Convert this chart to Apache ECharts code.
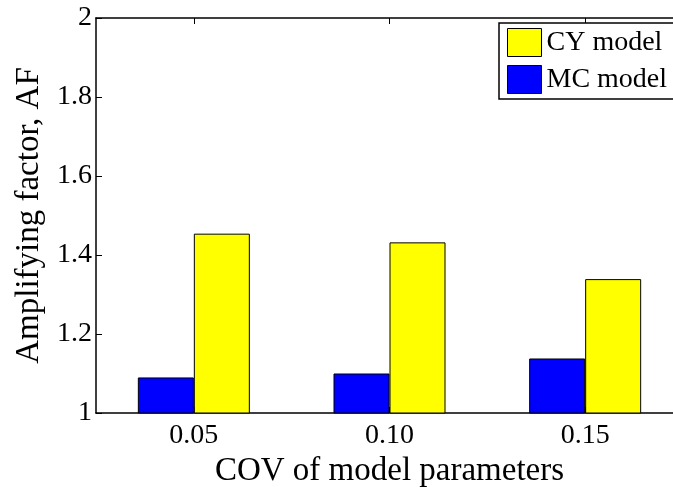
<!DOCTYPE html>
<html>
<head>
<meta charset="utf-8">
<script src="https://cdn.jsdelivr.net/npm/echarts@6/dist/echarts.min.js"></script>
<style>html,body{margin:0;padding:0;background:#fff}#c{width:673px;height:487px}</style>
</head>
<body>
<div id="c"></div>
<script>
const categories = ['0.05', '0.10', '0.15'];
const mcValues = [1.09, 1.10, 1.138];
const cyValues = [1.454, 1.432, 1.339];
const seriesNames = ['MC model', 'CY model'];
const yTicks = { min: 1, max: 2, interval: 0.2 };

const FONT = "'Liberation Serif', 'Times New Roman', serif";
const chart = echarts.init(document.getElementById('c'), null, { renderer: 'canvas' });
const axisLine = { show: true, lineStyle: { color: '#000', width: 1.5 } };
chart.setOption({
  animation: false,
  backgroundColor: '#fff',
  grid: { left: 96, top: 18, width: 587, height: 395, containLabel: false, outerBoundsMode: 'none' },
  legend: {
    data: ['CY model', 'MC model'],
    orient: 'vertical',
    left: 499, top: 23,
    padding: [5, 8, 5, 8],
    itemGap: 8,
    itemWidth: 34, itemHeight: 28,
    icon: 'rect',
    borderColor: '#000', borderWidth: 1.5,
    backgroundColor: '#fff',
    textStyle: { fontFamily: FONT, fontSize: 28, color: '#000' },
    itemStyle: { borderColor: '#000', borderWidth: 1 }
  },
  xAxis: [{
    type: 'category', data: categories, position: 'bottom',
    axisLine: axisLine,
    axisTick: { show: true, inside: true, alignWithLabel: true, length: 6, lineStyle: { color: '#000', width: 1 } },
    axisLabel: { fontFamily: FONT, fontSize: 28, color: '#000', margin: 9 },
    name: 'COV of model parameters', nameLocation: 'middle', nameGap: 32,
    nameTextStyle: { fontFamily: FONT, fontSize: 33, color: '#000' }
  }, {
    type: 'category', data: categories, position: 'top',
    axisLine: axisLine,
    axisTick: { show: true, inside: true, alignWithLabel: true, length: 6, lineStyle: { color: '#000', width: 1 } },
    axisLabel: { show: false }
  }],
  yAxis: [{
    type: 'value', min: yTicks.min, max: yTicks.max, interval: yTicks.interval,
    axisLine: axisLine,
    axisTick: { show: true, inside: true, length: 6, lineStyle: { color: '#000', width: 1 } },
    splitLine: { show: false },
    axisLabel: { fontFamily: FONT, fontSize: 28, color: '#000', margin: 4 },
    name: 'Amplifying factor, AF', nameLocation: 'middle', nameGap: 48,
    nameTextStyle: { fontFamily: FONT, fontSize: 33, color: '#000' }
  }],
  series: [{
    name: seriesNames[0], type: 'bar', data: mcValues, barWidth: 56, barGap: '0%',
    itemStyle: { color: '#0000ff', borderColor: '#000', borderWidth: 1 }
  }, {
    name: seriesNames[1], type: 'bar', data: cyValues, barWidth: 56, barGap: '0%',
    itemStyle: { color: '#ffff00', borderColor: '#000', borderWidth: 1 }
  }]
});
</script>
</body>
</html>
